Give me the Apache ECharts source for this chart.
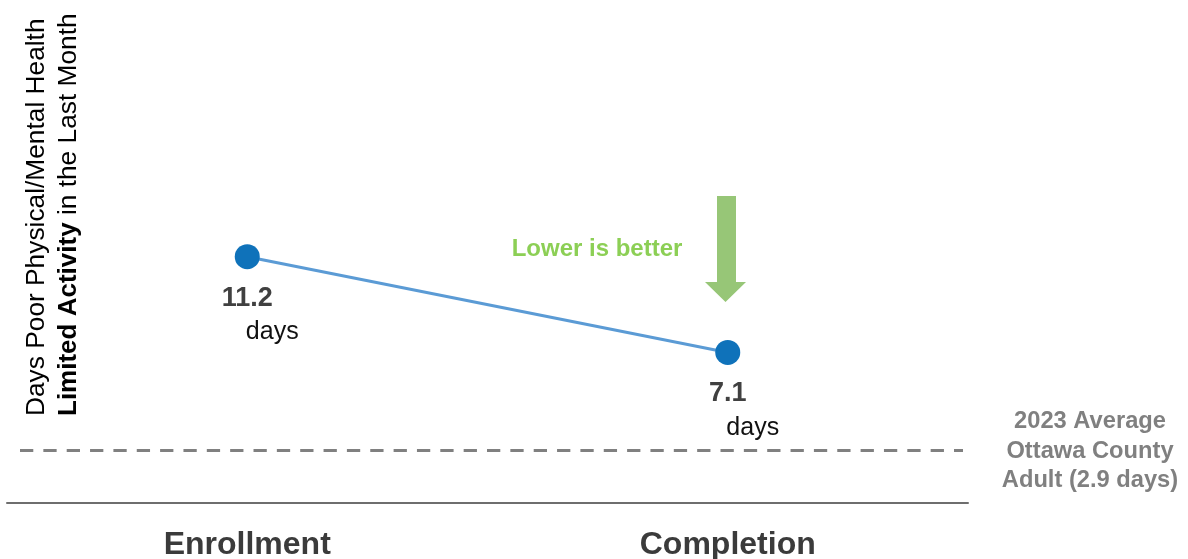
<!DOCTYPE html>
<html>
<head>
<meta charset="utf-8">
<title>Days Limited Activity</title>
<script src="https://cdn.jsdelivr.net/npm/echarts@6/dist/echarts.min.js"></script>
<style>
  html, body { margin: 0; padding: 0; background: #ffffff; }
  #chart { width: 1188px; height: 559px; }
</style>
</head>
<body>
<div id="chart"></div>
<script>
// Program time points and average days of limited activity
const categories = ['Enrollment', 'Completion'];
const daysLimited = [11.2, 7.1];
// County-wide adult average used as the reference line
const countyAverage = 2.9;
const countyYear = 2023;

const FONT = '"Liberation Sans", Arial, Helvetica, sans-serif';

const chart = echarts.init(document.getElementById('chart'), null, { renderer: 'canvas' });

// Shared vertical scale for both grids
const yScale = { min: 0.65, max: 12 };
const gridTop = 238;
const gridBottom = 56;

chart.setOption({
  backgroundColor: '#ffffff',
  animation: false,
  grid: [
    { left: 7, right: 220, top: gridTop, bottom: gridBottom, containLabel: false, outerBoundsMode: 'none' },
    { left: 20, right: 225, top: gridTop, bottom: gridBottom, containLabel: false, outerBoundsMode: 'none' }
  ],
  xAxis: [
    {
      type: 'category',
      gridIndex: 0,
      data: categories,
      boundaryGap: true,
      axisLine: { show: true, lineStyle: { color: '#6e6e6e', width: 2 } },
      axisTick: { show: false },
      axisLabel: {
        margin: 26,
        fontFamily: FONT,
        fontSize: 32,
        fontWeight: 'bold',
        color: '#3b3b3b'
      },
      splitLine: { show: false }
    },
    {
      type: 'value',
      gridIndex: 1,
      min: 0,
      max: 1,
      show: false
    }
  ],
  yAxis: [
    { type: 'value', gridIndex: 0, min: yScale.min, max: yScale.max, show: false, splitLine: { show: false } },
    { type: 'value', gridIndex: 1, min: yScale.min, max: yScale.max, show: false, splitLine: { show: false } }
  ],
  series: [
    {
      type: 'line',
      name: 'Days limited activity',
      xAxisIndex: 0,
      yAxisIndex: 0,
      data: daysLimited,
      symbol: 'circle',
      symbolSize: 25,
      lineStyle: { color: '#5b9bd5', width: 3 },
      itemStyle: { color: '#0f72ba' },
      z: 5,
      label: {
        show: true,
        position: 'bottom',
        distance: 14,
        align: 'center',
        formatter: (p) => '{v|' + p.value + '}\n{d|days}',
        rich: {
          v: { fontFamily: FONT, fontSize: 27, fontWeight: 'bold', color: '#404040', lineHeight: 30, align: 'center' },
          d: { fontFamily: FONT, fontSize: 25, color: '#111111', lineHeight: 38, padding: [0, 0, 0, 50], align: 'center' }
        }
      }
    },
    {
      type: 'line',
      name: 'County average',
      xAxisIndex: 1,
      yAxisIndex: 1,
      data: [[0, countyAverage], [1, countyAverage]],
      symbol: 'none',
      silent: true,
      lineStyle: { color: '#808080', width: 3, type: [13.3, 10.05] },
      z: 2
    }
  ],
  graphic: [
    {
      // Vertical axis title, reads bottom to top
      type: 'text',
      x: 21,
      y: 416,
      rotation: Math.PI / 2,
      style: {
        text: '{a|Days Poor Physical/Mental Health}\n{b|Limited Activity}{c| in the Last Month}',
        align: 'left',
        verticalAlign: 'top',
        rich: {
          a: { fontFamily: FONT, fontSize: 26.3, color: '#555555', lineHeight: 32 },
          b: { fontFamily: FONT, fontSize: 26, fontWeight: 'bold', color: '#222222', lineHeight: 31 },
          c: { fontFamily: FONT, fontSize: 26.3, color: '#333333', lineHeight: 31 }
        }
      }
    },
    {
      type: 'text',
      x: 597,
      y: 249,
      style: {
        text: 'Lower is better',
        fontFamily: FONT,
        fontSize: 24,
        fontWeight: 'bold',
        fill: '#8ccf55',
        align: 'center',
        verticalAlign: 'middle'
      }
    },
    {
      // Downward arrow beside the annotation
      type: 'polygon',
      shape: {
        points: [
          [717, 196], [736, 196], [736, 282], [746, 282],
          [725.5, 302], [705, 282], [717, 282]
        ]
      },
      style: { fill: '#97c677' }
    },
    {
      type: 'text',
      x: 1090,
      y: 451,
      style: {
        text: countyYear + ' Average\nOttawa County\nAdult (' + countyAverage + ' days)',
        fontFamily: FONT,
        fontSize: 23.7,
        fontWeight: 'bold',
        lineHeight: 29.5,
        fill: '#808080',
        align: 'center',
        verticalAlign: 'middle'
      }
    }
  ]
});
</script>
</body>
</html>
